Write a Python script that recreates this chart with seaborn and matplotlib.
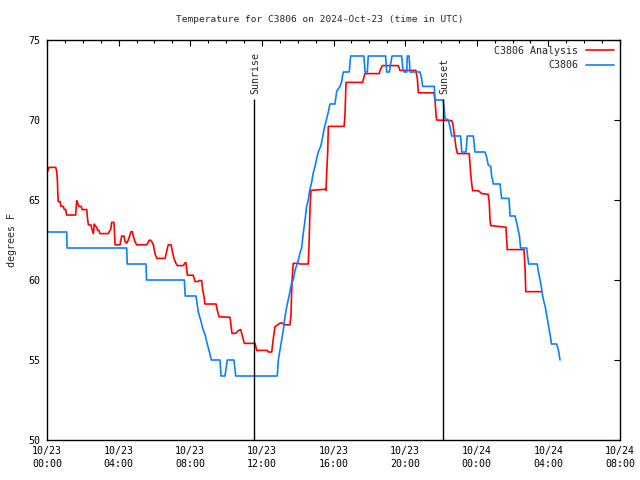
import matplotlib
matplotlib.use('Agg')
import matplotlib.pyplot as plt
import seaborn as sns

# hours since 2024-10-23 00:00 UTC, temperature in F
obs_h = [0.0, 1.1, 1.12, 4.45, 4.48, 5.53, 5.56, 7.67, 7.72, 8.32, 8.45, 8.58, 8.69, 8.82, 8.95, 9.07,
         9.18, 9.66, 9.72, 9.94, 10.07, 10.44, 10.54, 12.86, 12.92, 13.01, 13.11, 13.2, 13.29, 13.42,
         13.53, 13.66, 13.75, 13.85, 13.94, 14.04, 14.13, 14.22, 14.31, 14.41, 14.5, 14.59, 14.69,
         14.78, 14.87, 14.97, 15.06, 15.15, 15.3, 15.4, 15.47, 15.58, 15.71, 15.8, 16.08, 16.14, 16.18,
         16.36, 16.46, 16.51, 16.55, 16.88, 16.92, 16.96, 17.7, 17.76, 17.89, 17.94, 18.91, 18.97,
         19.12, 19.19, 19.27, 19.81, 19.86, 19.94, 20.09, 20.12, 20.22, 20.27, 20.83, 20.92, 20.98,
         21.63, 21.67, 22.13, 22.23, 22.41, 22.5, 22.6, 23.1, 23.16, 23.4, 23.47, 23.81, 23.9, 24.46,
         24.55, 24.64, 24.78, 24.83, 24.93, 25.3, 25.39, 25.8, 25.86, 26.14, 26.19, 26.26, 26.32,
         26.38, 26.42, 26.45, 26.79, 26.84, 26.9, 27.38, 27.43, 27.49, 27.53, 27.59, 27.64, 27.68,
         27.76, 27.83, 27.89, 27.94, 28.0, 28.06, 28.11, 28.17, 28.46, 28.52, 28.58, 28.62, 28.65]
obs_t = [63, 63, 62, 62, 61, 61, 60, 60, 59, 59, 58, 57.5, 57, 56.6, 56, 55.5,
         55, 55, 54, 54, 55, 55, 54, 54, 55, 55.6, 56.25, 56.9, 57.7, 58.5,
         59.06, 59.8, 60, 60.6, 60.9, 61.25, 61.7, 62, 62.9, 63.75, 64.6, 65, 65.7,
         66.1, 66.7, 67.1, 67.6, 68, 68.4, 69, 69.4, 69.9, 70.5, 71, 71, 71.5, 71.8,
         72.1, 72.4, 72.8, 73, 73, 73.5, 74, 74, 73, 73, 74, 74, 73,
         73, 73.5, 74, 74, 73.3, 73, 73, 74, 74, 73, 73, 72.6, 72.1,
         72.1, 71.25, 71.25, 70.1, 70, 69.6, 69, 69, 68, 68, 69, 69, 68, 68,
         67.7, 67.2, 67.1, 66.5, 66, 66, 65.1, 65.1, 64, 64, 63.75, 63.44, 63.1,
         62.8, 62.3, 62, 62, 61.5, 61, 61, 60.6, 60.25, 60, 59.7, 59.3, 59,
         58.6, 58.3, 57.9, 57.6, 57.2, 56.8, 56.5, 56, 56, 55.8, 55.5, 55.2, 55]

ana_h = [0.04, 0.11, 0.49, 0.54, 0.58, 0.6, 0.63, 0.73, 0.78, 0.91, 0.97, 1.04, 1.1, 1.6, 1.66, 1.71,
         1.79, 1.9, 1.97, 2.22, 2.25, 2.31, 2.46, 2.5, 2.59, 2.64, 2.68, 2.77, 2.83, 2.9, 2.96, 3.42,
         3.57, 3.61, 3.74, 3.8, 4.08, 4.17, 4.3, 4.36, 4.45, 4.54, 4.69, 4.77, 4.82, 4.91, 5.01, 5.57,
         5.7, 5.77, 5.85, 5.94, 6.03, 6.13, 6.59, 6.68, 6.77, 6.93, 7.02, 7.09, 7.2, 7.28, 7.61, 7.71,
         7.76, 7.84, 8.17, 8.27, 8.4, 8.49, 8.64, 8.69, 8.77, 8.82, 9.44, 9.51, 9.61, 10.22, 10.26,
         10.33, 10.55, 10.68, 10.82, 10.89, 11.02, 11.62, 11.71, 12.3, 12.36, 12.55, 12.64, 12.73,
         13.01, 13.1, 13.25, 13.57, 13.63, 13.66, 13.7, 13.75, 14.04, 14.13, 14.59, 14.63, 14.69,
         14.74, 15.53, 15.58, 15.62, 15.68, 15.71, 16.59, 16.64, 16.7, 17.63, 17.7, 17.76, 18.56,
         18.6, 18.73, 19.62, 19.71, 20.6, 20.68, 20.74, 21.61, 21.67, 21.72, 21.76, 22.6, 22.66,
         22.73, 22.84, 22.92, 23.58, 23.66, 23.72, 23.77, 24.09, 24.28, 24.64, 24.7, 24.74, 24.78,
         25.34, 25.63, 25.67, 25.7, 26.64, 26.7, 26.74, 27.63]
ana_t = [66.8, 67.04, 67.04, 66.77, 66.25, 65.5, 64.9, 64.9, 64.6, 64.6, 64.4, 64.4, 64.06, 64.06, 64.96, 64.8,
         64.6, 64.6, 64.4, 64.4, 63.96, 63.44, 63.44, 63.2, 62.9, 63.5, 63.4, 63.3, 63.1, 63.1, 62.9, 62.9,
         63.2, 63.6, 63.6, 62.2, 62.2, 62.75, 62.75, 62.4, 62.3, 62.5, 63.02, 63.02, 62.75, 62.4, 62.2, 62.2,
         62.46, 62.5, 62.4, 62.2, 61.67, 61.35, 61.35, 61.77, 62.2, 62.2, 61.67, 61.35, 61.04, 60.9, 60.9, 61.08,
         61.08, 60.3, 60.3, 59.9, 59.9, 59.96, 59.96, 59.4, 58.96, 58.5, 58.5, 58.1, 57.7, 57.67, 57.3,
         56.67, 56.67, 56.83, 56.9, 56.6, 56.04, 56.04, 55.6, 55.6, 55.5, 55.5, 56.35, 57.08,
         57.3, 57.33, 57.2, 57.2, 57.9, 59.2, 60.2, 61.04, 61.04, 61.0, 61.0, 62.08, 64.5,
         65.6, 65.67, 65.6, 66.67, 68.1, 69.6, 69.6, 70.3, 72.35, 72.35, 72.7, 72.9, 72.9,
         73.1, 73.4, 73.4, 73.1, 73.1, 72.6, 71.7, 71.7, 71.25, 70.4, 70.0, 69.96, 69.8,
         69.2, 68.3, 67.9, 67.9, 66.67, 66.0, 65.58, 65.58, 65.4, 65.35, 64.8, 63.75, 63.4,
         63.33, 63.3, 62.5, 61.9, 61.9, 60.6, 59.27, 59.27]

sunrise_h = 11.56
sunset_h = 22.12
sun_top = 71.3

xtick_pos = [0, 4, 8, 12, 16, 20, 24, 28, 32]
xtick_labels = ['10/23\n00:00', '10/23\n04:00', '10/23\n08:00', '10/23\n12:00', '10/23\n16:00',
                '10/23\n20:00', '10/24\n00:00', '10/24\n04:00', '10/24\n08:00']
ytick_pos = [50, 55, 60, 65, 70, 75]

sns.set_theme(style='white')
plt.rcParams['font.family'] = ['DejaVu Sans Mono']
plt.rcParams['font.size'] = 7

fig = plt.figure(figsize=(6.4, 4.8), dpi=100)
ax = fig.add_axes([47 / 640, 40 / 480, 573 / 640, 400 / 480])

sns.lineplot(x=ana_h, y=ana_t, ax=ax, color='#ff0000', lw=1.2, sort=False, estimator=None,
             label='C3806 Analysis')
sns.lineplot(x=obs_h, y=obs_t, ax=ax, color='#0a80ff', lw=1.2, sort=False, estimator=None,
             label='C3806')

# sunrise / sunset markers
for h, name in [(sunrise_h, 'Sunrise'), (sunset_h, 'Sunset')]:
    ax.vlines(h, 50, sun_top, color='black', lw=1.0)
    ax.text(h + 0.05, sun_top + 0.35, name, rotation=90, ha='center', va='bottom', fontsize=7.2)

ax.set_xlim(0, 32)
ax.set_ylim(50, 75)
ax.set_xticks(xtick_pos)
ax.set_xticklabels(xtick_labels, linespacing=1.45)
ax.set_xticks(range(0, 33), minor=True)
ax.set_yticks(ytick_pos)
ax.tick_params(which='both', direction='in', top=True, right=True, colors='black',
               labelsize=7.2, width=0.8)
ax.tick_params(which='major', length=4.5)
ax.tick_params(which='minor', length=2.2)
ax.tick_params(axis='x', pad=4)
ax.tick_params(axis='y', pad=5)

for s in ax.spines.values():
    s.set_color('black')
    s.set_linewidth(1.0)

ax.set_xlabel('')
ax.set_ylabel('degrees F', fontsize=7.2)
ax.yaxis.set_label_coords(-0.053, 0.5)

fig.text(0.5, 1 - 19 / 480, 'Temperature for C3806 on 2024-Oct-23 (time in UTC)',
         ha='center', va='center', fontsize=6.8)

ax.legend(loc='upper right', frameon=False, markerfirst=False, fontsize=7.2,
          handlelength=2.8, labelspacing=0.45, borderaxespad=0.2, handletextpad=0.8)

fig.savefig('out.png', dpi=100)
